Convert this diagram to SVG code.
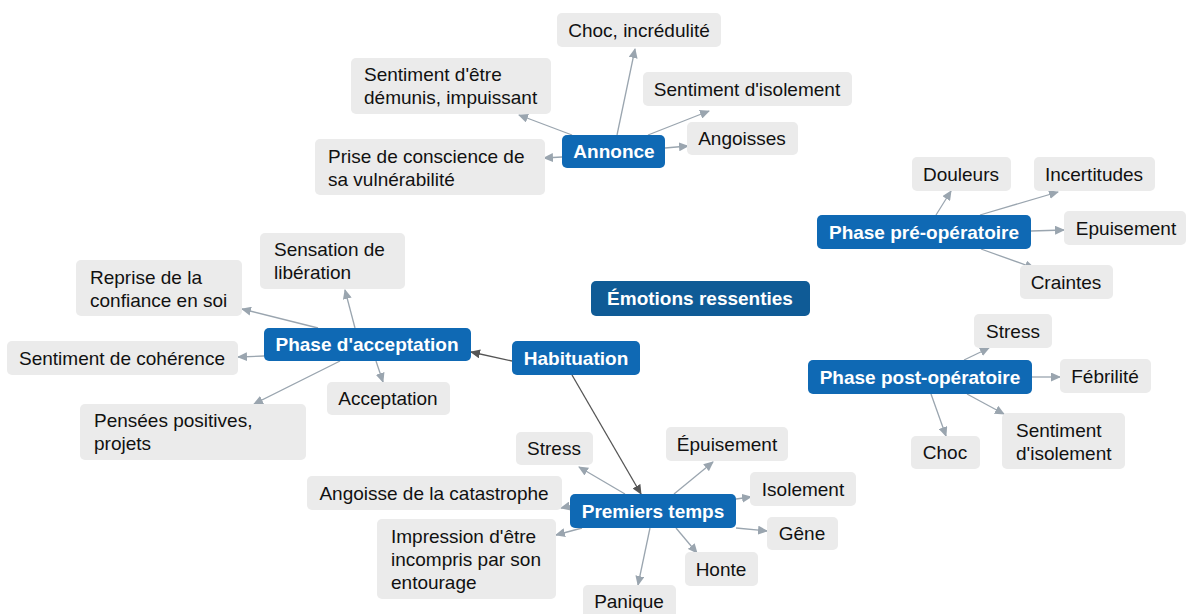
<svg xmlns="http://www.w3.org/2000/svg" width="1186" height="614" viewBox="0 0 1186 614">
<style>
.g rect{fill:#ebebeb}
.b rect{fill:#0f69b4}
.m rect{fill:#0f5b96}
text{font-family:"Liberation Sans",Arial,sans-serif;font-size:19px;fill:#111}
.b text,.m text{fill:#fff;font-weight:bold;text-anchor:middle}
.c{text-anchor:middle}
.e line{stroke:#9aa5af;stroke-width:1.3;marker-end:url(#ag)}
.e line.d{stroke:#555;marker-end:url(#ad)}
</style>
<defs>
<marker id="ag" markerUnits="userSpaceOnUse" markerWidth="10" markerHeight="9" refX="9" refY="4.5" orient="auto"><path d="M0,0 L10,4.5 L0,9 z" fill="#9aa5af"/></marker>
<marker id="ad" markerUnits="userSpaceOnUse" markerWidth="10" markerHeight="9" refX="9" refY="4.5" orient="auto"><path d="M0,0 L10,4.5 L0,9 z" fill="#555"/></marker>
</defs>
<rect width="1186" height="614" fill="#fff"/>
<g class="e" id="connectors">
<line x1="617" y1="135" x2="635" y2="49"/>
<line x1="572" y1="135" x2="519" y2="115"/>
<line x1="648" y1="135" x2="709" y2="111"/>
<line x1="665" y1="148" x2="688" y2="146"/>
<line x1="562" y1="157" x2="544" y2="158"/>
<line x1="355" y1="328" x2="345" y2="290"/>
<line x1="318" y1="328" x2="242" y2="309"/>
<line x1="264" y1="356" x2="238" y2="357"/>
<line x1="376" y1="361" x2="383" y2="382"/>
<line x1="340" y1="361" x2="254" y2="404"/>
<line class="d" x1="512" y1="361" x2="471" y2="352"/>
<line class="d" x1="572" y1="375" x2="641" y2="494"/>
<line x1="625" y1="494" x2="579" y2="467"/>
<line x1="674" y1="494" x2="713" y2="462"/>
<line x1="736" y1="499" x2="751" y2="497"/>
<line x1="570" y1="506" x2="561" y2="508"/>
<line x1="582" y1="528" x2="556" y2="535"/>
<line x1="736" y1="528" x2="767" y2="531"/>
<line x1="676" y1="528" x2="697" y2="553"/>
<line x1="650" y1="528" x2="638" y2="585"/>
<line x1="936" y1="215" x2="951" y2="191"/>
<line x1="980" y1="215" x2="1058" y2="192"/>
<line x1="1031" y1="231" x2="1064" y2="230"/>
<line x1="981" y1="249" x2="1034" y2="268"/>
<line x1="964" y1="360" x2="989" y2="348"/>
<line x1="1032" y1="377" x2="1060" y2="377"/>
<line x1="931" y1="394" x2="946" y2="436"/>
<line x1="967" y1="394" x2="1004" y2="414"/>
</g>
<g class="m" id="n-emotions"><rect x="591" y="281" width="219" height="35" rx="5"/><text x="700" y="305">Émotions ressenties</text></g>
<g class="b" id="n-annonce"><rect x="562" y="135" width="103" height="33" rx="5"/><text x="614" y="158">Annonce</text></g>
<g class="g" id="n-choc1"><rect x="557" y="13" width="164" height="34" rx="5"/><text class="c" x="639" y="37">Choc, incrédulité</text></g>
<g class="g" id="n-demunis"><rect x="351" y="58" width="200" height="56" rx="5"/><text x="364" y="81">Sentiment d'être</text><text x="364" y="104">démunis, impuissant</text></g>
<g class="g" id="n-isol1"><rect x="643" y="72" width="209" height="34" rx="5"/><text class="c" x="747" y="96">Sentiment d'isolement</text></g>
<g class="g" id="n-angoisses"><rect x="687" y="122" width="111" height="33" rx="5"/><text class="c" x="742" y="145">Angoisses</text></g>
<g class="g" id="n-prise"><rect x="315" y="139" width="230" height="56" rx="5"/><text x="328" y="163">Prise de conscience de</text><text x="328" y="186">sa vulnérabilité</text></g>
<g class="b" id="n-acceptation"><rect x="264" y="328" width="207" height="33" rx="5"/><text x="367" y="351">Phase d'acceptation</text></g>
<g class="g" id="n-sensation"><rect x="260" y="233" width="145" height="56" rx="5"/><text x="274" y="256">Sensation de</text><text x="274" y="279">libération</text></g>
<g class="g" id="n-reprise"><rect x="76" y="260" width="166" height="56" rx="5"/><text x="90" y="284">Reprise de la</text><text x="90" y="307">confiance en soi</text></g>
<g class="g" id="n-coherence"><rect x="7" y="341" width="231" height="34" rx="5"/><text class="c" x="122" y="365">Sentiment de cohérence</text></g>
<g class="g" id="n-accept"><rect x="327" y="382" width="123" height="33" rx="5"/><text class="c" x="388" y="405">Acceptation</text></g>
<g class="g" id="n-pensees"><rect x="80" y="404" width="226" height="56" rx="5"/><text x="94" y="427">Pensées positives,</text><text x="94" y="450">projets</text></g>
<g class="b" id="n-habituation"><rect x="512" y="341" width="128" height="34" rx="5"/><text x="576" y="365">Habituation</text></g>
<g class="b" id="n-premiers"><rect x="570" y="494" width="166" height="34" rx="5"/><text x="653" y="518">Premiers temps</text></g>
<g class="g" id="n-stress1"><rect x="516" y="432" width="77" height="33" rx="5"/><text class="c" x="554" y="455">Stress</text></g>
<g class="g" id="n-epuis1"><rect x="666" y="427" width="122" height="34" rx="5"/><text class="c" x="727" y="451">Épuisement</text></g>
<g class="g" id="n-isolement"><rect x="750" y="472" width="106" height="34" rx="5"/><text class="c" x="803" y="496">Isolement</text></g>
<g class="g" id="n-catastrophe"><rect x="307" y="476" width="255" height="34" rx="5"/><text class="c" x="434" y="500">Angoisse de la catastrophe</text></g>
<g class="g" id="n-gene"><rect x="767" y="517" width="71" height="33" rx="5"/><text class="c" x="802" y="540">Gêne</text></g>
<g class="g" id="n-impression"><rect x="377" y="519" width="179" height="80" rx="5"/><text x="391" y="543">Impression d'être</text><text x="391" y="566">incompris par son</text><text x="391" y="589">entourage</text></g>
<g class="g" id="n-honte"><rect x="685" y="552" width="73" height="34" rx="5"/><text class="c" x="721" y="576">Honte</text></g>
<g class="g" id="n-panique"><rect x="583" y="585" width="93" height="34" rx="5"/><text class="c" x="629" y="608">Panique</text></g>
<g class="b" id="n-preop"><rect x="817" y="215" width="214" height="34" rx="5"/><text x="924" y="239">Phase pré-opératoire</text></g>
<g class="g" id="n-douleurs"><rect x="912" y="157" width="99" height="34" rx="5"/><text class="c" x="961" y="181">Douleurs</text></g>
<g class="g" id="n-incert"><rect x="1034" y="157" width="121" height="34" rx="5"/><text class="c" x="1094" y="181">Incertitudes</text></g>
<g class="g" id="n-epuis2"><rect x="1064" y="211" width="122" height="34" rx="5"/><text class="c" x="1126" y="235">Epuisement</text></g>
<g class="g" id="n-craintes"><rect x="1020" y="265" width="93" height="34" rx="5"/><text class="c" x="1066" y="289">Craintes</text></g>
<g class="b" id="n-postop"><rect x="808" y="360" width="224" height="34" rx="5"/><text x="920" y="384">Phase post-opératoire</text></g>
<g class="g" id="n-stress2"><rect x="974" y="314" width="78" height="34" rx="5"/><text class="c" x="1013" y="338">Stress</text></g>
<g class="g" id="n-febrilite"><rect x="1060" y="359" width="91" height="34" rx="5"/><text class="c" x="1105" y="383">Fébrilité</text></g>
<g class="g" id="n-choc2"><rect x="911" y="436" width="69" height="33" rx="5"/><text class="c" x="945" y="459">Choc</text></g>
<g class="g" id="n-isol2"><rect x="1002" y="413" width="123" height="56" rx="5"/><text x="1016" y="437">Sentiment</text><text x="1016" y="460">d'isolement</text></g>
</svg>
